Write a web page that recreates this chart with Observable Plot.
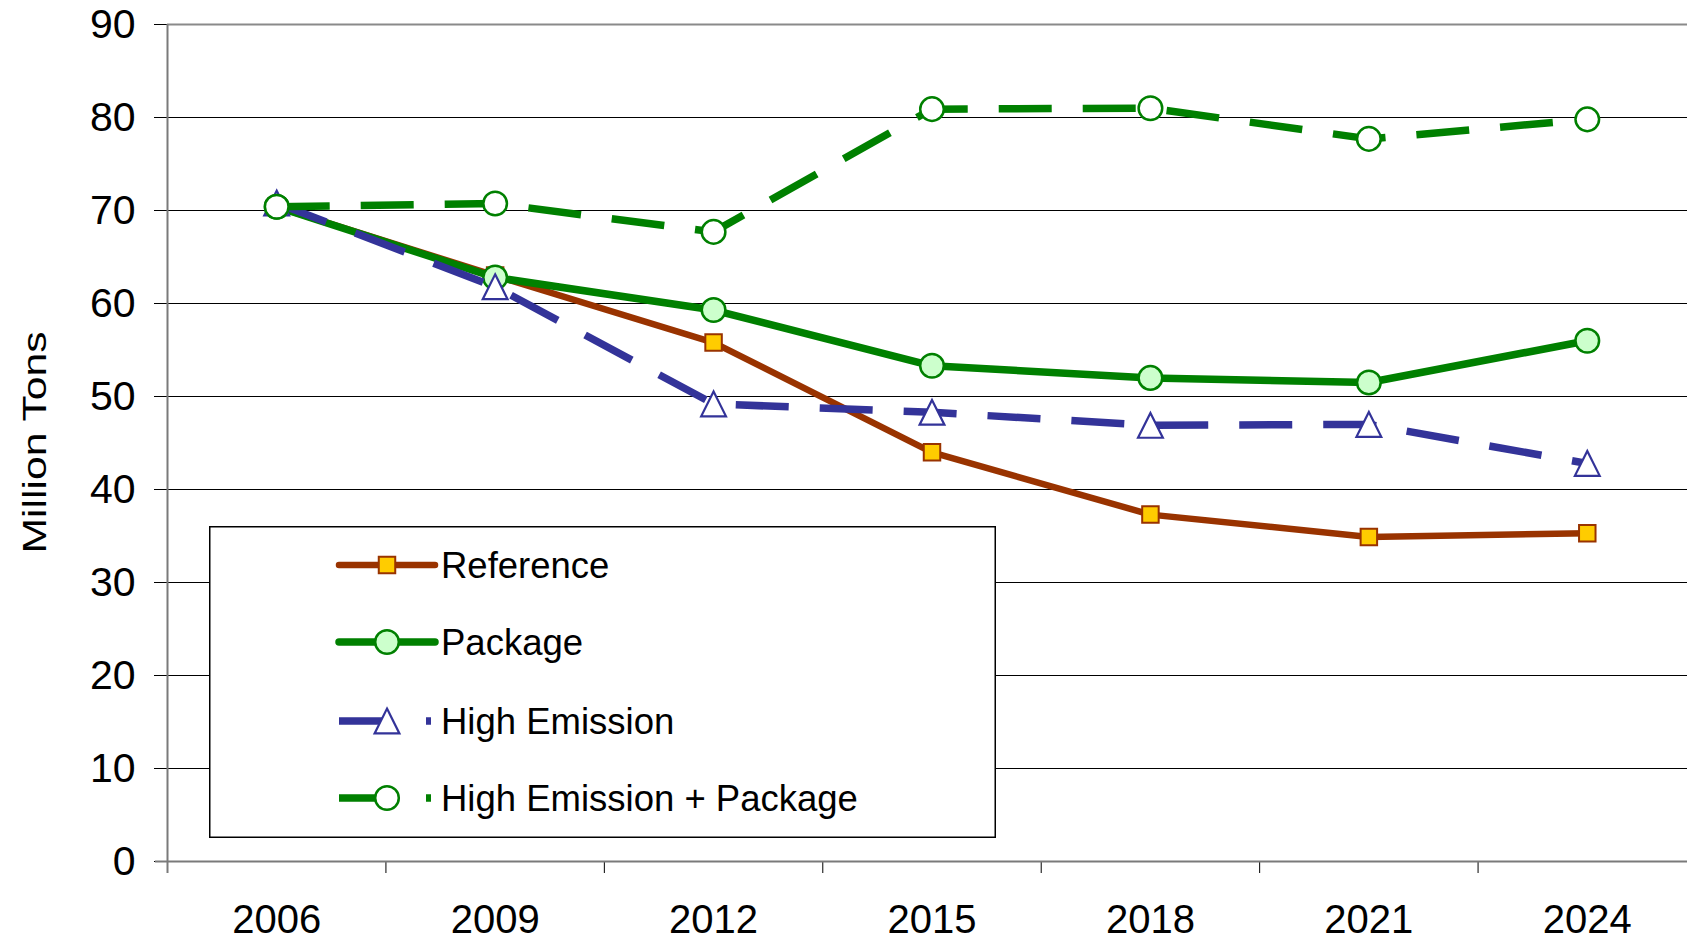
<!DOCTYPE html>
<html>
<head>
<meta charset="utf-8">
<script src="https://cdn.jsdelivr.net/npm/d3@7"></script>
<script src="https://cdn.jsdelivr.net/npm/@observablehq/plot@0.6"></script>
<style>
  html, body { margin: 0; padding: 0; background: #fff; overflow: hidden; }
  #wrap { position: relative; width: 1687px; height: 943px; overflow: hidden; font-family: Arial, "Liberation Sans", sans-serif; }
  #legend { position: absolute; left: 209px; top: 526px; }
</style>
</head>
<body>
<div id="wrap"><div id="legend"></div></div>
<script>
// ---- data ----
const years = [2006, 2009, 2012, 2015, 2018, 2021, 2024];
const seriesNames = ["Reference", "Package", "High Emission", "High Emission + Package"];
const reference = [70.4, 63.0, 55.8, 44.0, 37.3, 34.9, 35.3];
const packageVals = [70.4, 62.8, 59.3, 53.3, 52.0, 51.5, 56.0];
const highEmission = [70.8, 61.8, 49.2, 48.3, 46.9, 47.0, 42.8];
const highEmissionPackage = [70.4, 70.75, 67.7, 80.9, 81.0, 77.7, 79.8];
const yTicks = [0, 10, 20, 30, 40, 50, 60, 70, 80, 90];
const yLabel = "Million Tons";

// ---- styles ----
const triangle = {
  draw(ctx, size) {
    const s = Math.sqrt(size);
    ctx.moveTo(0, -s / 2);
    ctx.lineTo(s / 2, s / 2);
    ctx.lineTo(-s / 2, s / 2);
    ctx.closePath();
  }
};
const styles = [
  {stroke: "#993300", width: 6.5, dash: null, symbol: "square", r: 9.3, fill: "#FFCC00", mstroke: "#993300", mw: 2},
  {stroke: "#008000", width: 7.5, dash: null, symbol: "circle", r: 11.8, fill: "#CCFFCC", mstroke: "#008000", mw: 2.5},
  {stroke: "#333399", width: 7.5, dash: "53,31", symbol: triangle, r: 14, fill: "#FFFFFF", mstroke: "#333399", mw: 2.2},
  {stroke: "#008000", width: 7.5, dash: "53,31", symbol: "circle", r: 11.8, fill: "#FFFFFF", mstroke: "#008000", mw: 2.5}
];
const allValues = [reference, packageVals, highEmission, highEmissionPackage];
const rowsFor = (vals, name) => years.map((year, i) => ({year, value: vals[i], series: name}));
const step = years[1] - years[0];
const xMin = years[0] - step / 2, xMax = years[years.length - 1] + step / 2;
const boundaries = d3.range(years.length + 1).map(i => xMin + i * step);

const seriesMarks = [];
allValues.forEach((vals, i) => {
  const st = styles[i];
  const data = rowsFor(vals, seriesNames[i]);
  seriesMarks.push(Plot.line(data, {
    x: "year", y: "value", stroke: st.stroke, strokeWidth: st.width,
    strokeDasharray: st.dash || undefined,
    strokeLinecap: st.dash ? "butt" : "round", strokeLinejoin: "round"
  }));
  seriesMarks.push(Plot.dot(data, {
    x: "year", y: "value", symbol: st.symbol, r: st.r,
    fill: st.fill, stroke: st.mstroke, strokeWidth: st.mw
  }));
});

const chart = Plot.plot({
  width: 1687, height: 943,
  marginLeft: 167, marginRight: 0, marginTop: 24, marginBottom: 82,
  x: {type: "linear", domain: [xMin, xMax], range: [167, 1696]},
  y: {domain: [0, 90], range: [861, 24]},
  style: {fontFamily: "Arial, 'Liberation Sans', sans-serif", background: "white", color: "#000", maxWidth: "none"},
  marks: [
    Plot.ruleY(yTicks.filter(d => d > 0 && d < 90), {stroke: "#000", strokeWidth: 1}),
    Plot.ruleY([yTicks[yTicks.length - 1]], {stroke: "#8a8a8a", strokeWidth: 2}),
    Plot.axisY({ticks: yTicks, tickSize: 13, tickPadding: 19, fontSize: 41, label: null, tickFormat: d => String(d), color: "#000", strokeWidth: 1}),
    Plot.axisX({ticks: boundaries, tickSize: 12, tickFormat: () => "", label: null, color: "#000", strokeWidth: 1}),
    Plot.axisX({ticks: years, tickSize: 0, tickPadding: 43, fontSize: 40, tickFormat: d => String(d), label: null, color: "#000"}),
    Plot.ruleX([xMin], {stroke: "#7a7a7a", strokeWidth: 2, insetBottom: -12}),
    Plot.ruleY([0], {stroke: "#7a7a7a", strokeWidth: 2, insetLeft: -12}),
    ...seriesMarks
  ]
});

d3.select(chart).append("text")
  .attr("transform", "translate(46,442.5) rotate(-90)")
  .attr("text-anchor", "middle")
  .attr("font-size", 34)
  .attr("fill", "#000")
  .attr("textLength", 222)
  .attr("lengthAdjust", "spacingAndGlyphs")
  .text(yLabel);

const wrap = document.getElementById("wrap");
wrap.insertBefore(chart, wrap.firstChild);

// ---- legend ----
const lw = 787, lh = 312;
const leg = d3.select("#legend").append("svg").attr("width", lw).attr("height", lh)
  .style("display", "block").style("font-family", "Arial, 'Liberation Sans', sans-serif");
leg.append("rect").attr("x", 0.75).attr("y", 0.75).attr("width", lw - 1.5).attr("height", lh - 1.5)
  .attr("fill", "#fff").attr("stroke", "#000").attr("stroke-width", 1.5);
const rowY = [39, 116, 195, 272];
seriesNames.forEach((name, i) => {
  const st = styles[i];
  const g = leg.append("g").attr("transform", `translate(0,${rowY[i]})`);
  g.append("line").attr("x1", 130).attr("x2", 226).attr("y1", 0).attr("y2", 0)
    .attr("stroke", st.stroke).attr("stroke-width", st.width)
    .attr("stroke-linecap", st.dash ? "butt" : "round")
    .attr("stroke-dasharray", st.dash ? "48,39,5,100" : null);
  const sym = typeof st.symbol === "string"
    ? (st.symbol === "square" ? d3.symbolSquare : d3.symbolCircle) : st.symbol;
  g.append("path").attr("transform", "translate(178,0)")
    .attr("d", d3.symbol(sym, Math.PI * st.r * st.r)())
    .attr("fill", st.fill).attr("stroke", st.mstroke).attr("stroke-width", st.mw);
  g.append("text").attr("x", 232).attr("y", 0).attr("dy", "0.36em")
    .attr("font-size", 36.5).attr("fill", "#000").text(name);
});
</script>
</body>
</html>
